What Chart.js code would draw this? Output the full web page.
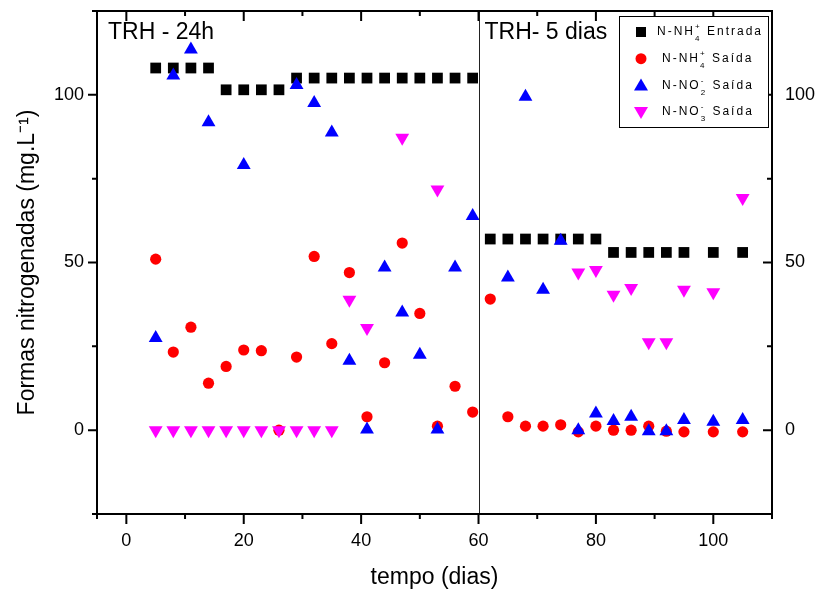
<!DOCTYPE html>
<html>
<head>
<meta charset="utf-8">
<script src="https://cdn.jsdelivr.net/npm/chart.js@4/dist/chart.umd.min.js"></script>
<style>
  html, body { margin: 0; padding: 0; background: #fff; }
</style>
</head>
<body>
<canvas id="grafico" width="819" height="592"></canvas>
<script>
// Dados
const diasEntrada = [5, 8, 11, 14, 17, 20, 23, 26, 29, 32, 35, 38, 41, 44, 47, 50, 53, 56, 59,
  62, 65, 68, 71, 74, 77, 80, 83, 86, 89, 92, 95, 100, 105];
const nh4Entrada = [108, 108, 108, 108, 101.5, 101.5, 101.5, 101.5, 105, 105, 105, 105, 105, 105, 105, 105, 105, 105, 105,
  57, 57, 57, 57, 57, 57, 57, 53, 53, 53, 53, 53, 53, 53];

const diasSaida = diasEntrada;
const nh4Saida = [51, 23.3, 30.7, 14, 19, 23.9, 23.7, 0, 21.8, 51.8, 25.8, 47, 4, 20.1, 55.8, 34.8, 1.2, 13.1, 5.4,
  39.1, 4, 1.2, 1.2, 1.6, -0.5, 1.2, 0, 0, 1.2, -0.3, -0.5, -0.5, -0.5];

const diasNO2 = [5, 8, 11, 14, 20, 29, 32, 35, 38, 41, 44, 47, 50, 53, 56, 59,
  65, 68, 71, 74, 77, 80, 83, 86, 89, 92, 95, 100, 105];
const no2Saida = [27.5, 105.8, 113.5, 91.8, 79.1, 102.9, 97.6, 88.8, 20.7, 0.2, 48.5, 35.1, 22.5, 0.2, 48.5, 63.9,
  45.5, 99.4, 41.9, 56.5, 0, 5, 2.7, 4, -0.3, -0.3, 3, 2.5, 3];

const diasNO3 = [5, 8, 11, 14, 17, 20, 23, 26, 29, 32, 35, 38, 41, 47, 53,
  77, 80, 83, 86, 89, 92, 95, 100, 105];
const no3Saida = [0, 0, 0, 0, 0, 0, 0, 0, 0, 0, 0, 38.9, 30.5, 87.2, 71.8,
  47, 47.8, 40.4, 42.4, 26.2, 26.2, 41.9, 41.1, 69.2];

// Eixos
const xTicks = [0, 20, 40, 60, 80, 100];
const xMinor = [-5, 10, 30, 50, 70, 90, 110];
const yTicks = [0, 50, 100];
const yMinor = [-25, 25, 75, 125];
const divisao = 60;

const fonte = "'Liberation Sans', Arial, sans-serif";

function pontos(xs, ys) {
  return xs.map((x, i) => ({ x: x, y: ys[i] }));
}

// Legenda: base, índice, carga, resto
const legenda = [
  { base: "N-NH", sub: "4", sup: "+", resto: " Entrada", cor: "#000000", forma: "quadrado" },
  { base: "N-NH", sub: "4", sup: "+", resto: " Saída", cor: "#ff0000", forma: "circulo" },
  { base: "N-NO", sub: "2", sup: "-", resto: " Saída", cor: "#0000ff", forma: "triangulo" },
  { base: "N-NO", sub: "3", sup: "-", resto: " Saída", cor: "#ff00ff", forma: "invertido" }
];

function marcador(ctx, forma, x, y, cor) {
  ctx.fillStyle = cor;
  ctx.beginPath();
  if (forma === "quadrado") {
    ctx.rect(x - 5, y - 5, 10, 10);
  } else if (forma === "circulo") {
    ctx.arc(x, y, 5.5, 0, Math.PI * 2);
  } else if (forma === "triangulo") {
    ctx.moveTo(x, y - 7);
    ctx.lineTo(x + 7, y + 5);
    ctx.lineTo(x - 7, y + 5);
  } else {
    ctx.moveTo(x, y + 7);
    ctx.lineTo(x + 7, y - 5);
    ctx.lineTo(x - 7, y - 5);
  }
  ctx.closePath();
  ctx.fill();
}

const extras = {
  id: "extras",
  afterDraw(chart) {
    const ctx = chart.ctx;
    const a = chart.chartArea;
    const sx = chart.scales.x;
    const sy = chart.scales.y;
    ctx.save();

    // linha de divisão
    const xd = Math.round(sx.getPixelForValue(divisao)) + 0.5;
    ctx.strokeStyle = "#222";
    ctx.lineWidth = 1;
    ctx.beginPath();
    ctx.moveTo(xd, a.top);
    ctx.lineTo(xd, a.bottom);
    ctx.stroke();

    // moldura
    ctx.strokeStyle = "#000";
    ctx.lineWidth = 2;
    ctx.strokeRect(a.left, a.top, a.right - a.left, a.bottom - a.top);

    // marcas dos eixos
    ctx.lineWidth = 2;
    ctx.beginPath();
    const marcaX = (v, len) => {
      const p = sx.getPixelForValue(v);
      ctx.moveTo(p, a.bottom); ctx.lineTo(p, a.bottom + len);
      ctx.moveTo(p, a.top); ctx.lineTo(p, a.top + len);
    };
    const marcaY = (v, len) => {
      const p = sy.getPixelForValue(v);
      ctx.moveTo(a.left, p); ctx.lineTo(a.left - len, p);
      ctx.moveTo(a.right, p); ctx.lineTo(a.right - len, p);
    };
    xTicks.forEach(v => marcaX(v, 10));
    xMinor.forEach(v => marcaX(v, 5));
    yTicks.forEach(v => marcaY(v, 9));
    yMinor.forEach(v => marcaY(v, 5));
    ctx.stroke();

    // textos TRH
    ctx.fillStyle = "#000";
    ctx.font = "23px " + fonte;
    ctx.textBaseline = "alphabetic";
    ctx.textAlign = "left";
    ctx.fillText("TRH - 24h", a.left + 11, 39);
    ctx.fillText("TRH- 5 dias", xd + 5, 39);

    // legenda
    const lx = 619, ly = 16, lw = 149, lh = 111;
    ctx.fillStyle = "#fff";
    ctx.fillRect(lx, ly, lw, lh);
    ctx.strokeStyle = "#000";
    ctx.lineWidth = 1;
    ctx.strokeRect(lx + 0.5, ly + 0.5, lw, lh);
    legenda.forEach((item, i) => {
      const cy = ly + 16 + i * 26.7;
      marcador(ctx, item.forma, 641, cy, item.cor);
      let tx = i === 0 ? 657 : 662;
      ctx.fillStyle = "#000";
      ctx.letterSpacing = "2px";
      ctx.textBaseline = "middle";
      ctx.font = "12px " + fonte;
      ctx.fillText(item.base, tx, cy);
      tx += ctx.measureText(item.base).width;
      ctx.font = "8px " + fonte;
      ctx.fillText(item.sup, tx, cy - 5);
      ctx.fillText(item.sub, tx, cy + 7);
      tx += Math.max(ctx.measureText(item.sup).width, ctx.measureText(item.sub).width);
      ctx.font = "12px " + fonte;
      ctx.fillText(item.resto, tx, cy);
    });
    ctx.restore();
  }
};

const soTicks = lista => scale => { scale.ticks = lista.map(v => ({ value: v })); };
const semMargem = largura => s => {
  s.width = largura;
  s.paddingTop = 0;
  s.paddingBottom = 0;
};

new Chart(document.getElementById("grafico"), {
  type: "scatter",
  data: {
    datasets: [
      {
        label: "N-NH4+ Entrada",
        data: pontos(diasEntrada, nh4Entrada),
        pointStyle: "rect",
        pointRadius: 7.6,
        backgroundColor: "#000000",
        borderColor: "#000000",
        borderWidth: 0,
        order: 4
      },
      {
        label: "N-NH4+ Saída",
        data: pontos(diasSaida, nh4Saida),
        pointStyle: "circle",
        pointRadius: 5.6,
        backgroundColor: "#ff0000",
        borderColor: "#ff0000",
        borderWidth: 0,
        order: 3
      },
      {
        label: "N-NO2- Saída",
        data: pontos(diasNO2, no2Saida),
        pointStyle: "triangle",
        pointRadius: 8,
        backgroundColor: "#0000ff",
        borderColor: "#0000ff",
        borderWidth: 0,
        order: 2
      },
      {
        label: "N-NO3- Saída",
        data: pontos(diasNO3, no3Saida),
        pointStyle: "triangle",
        pointRotation: 180,
        pointRadius: 8,
        backgroundColor: "#ff00ff",
        borderColor: "#ff00ff",
        borderWidth: 0,
        order: 1
      }
    ]
  },
  plugins: [extras],
  options: {
    responsive: false,
    animation: false,
    devicePixelRatio: 1,
    layout: { padding: { top: 11, left: 0, right: 0, bottom: 0 } },
    plugins: {
      legend: { display: false },
      tooltip: { enabled: false }
    },
    scales: {
      x: {
        type: "linear",
        min: -5,
        max: 110,
        afterBuildTicks: soTicks(xTicks),
        afterFit: s => { s.height = 78; s.paddingLeft = 0; s.paddingRight = 0; },
        grid: { display: false, drawTicks: false },
        border: { display: false },
        ticks: { color: "#000", padding: 16, font: { family: fonte, size: 18 } },
        title: { display: true, text: "tempo (dias)", color: "#000", padding: { top: 0, bottom: 1 }, font: { family: fonte, size: 23 } }
      },
      y: {
        type: "linear",
        min: -25,
        max: 125,
        afterBuildTicks: soTicks(yTicks),
        afterFit: semMargem(97),
        grid: { display: false, drawTicks: false },
        border: { display: false },
        ticks: { color: "#000", padding: 13, font: { family: fonte, size: 18 } },
        title: { display: true, text: "Formas nitrogenadas (mg.L⁻¹)", color: "#000", padding: { top: 14, bottom: 0 }, font: { family: fonte, size: 23 } }
      },
      y2: {
        type: "linear",
        position: "right",
        min: -25,
        max: 125,
        afterBuildTicks: soTicks(yTicks),
        afterFit: semMargem(47),
        grid: { display: false, drawTicks: false },
        border: { display: false },
        ticks: { color: "#000", padding: 13, font: { family: fonte, size: 18 } }
      }
    }
  }
});
</script>
</body>
</html>
